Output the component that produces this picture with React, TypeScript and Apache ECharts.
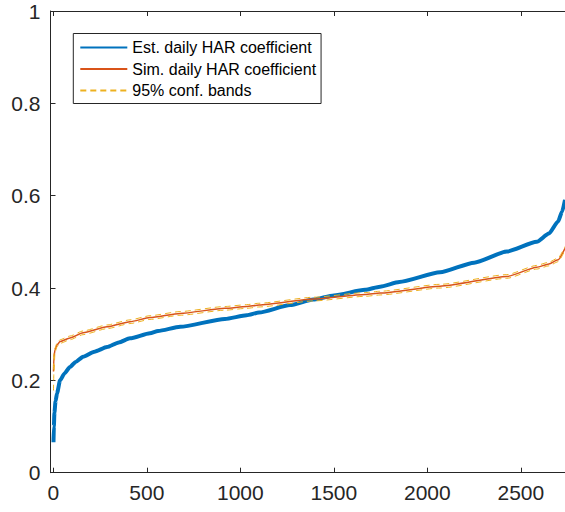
import React, { useEffect, useRef } from "react";
import * as echarts from "echarts";

// Estimated daily HAR coefficient (sorted)
const estX = [1, 3, 6, 12, 20, 36, 60, 89, 120, 159, 220, 287, 350, 410, 517, 560, 678, 918, 1034, 1100, 1266, 1390, 1500, 1667, 1747, 1850, 2068, 2250, 2425, 2585, 2650, 2699, 2720, 2736];
const estY = [0.066, 0.1, 0.13, 0.155, 0.172, 0.2, 0.215, 0.229, 0.24, 0.251, 0.262, 0.272, 0.282, 0.291, 0.302, 0.307, 0.316, 0.333, 0.341, 0.347, 0.363, 0.375, 0.384, 0.396, 0.403, 0.413, 0.434, 0.455, 0.479, 0.5, 0.518, 0.544, 0.565, 0.591];

// Simulated daily HAR coefficient
const simX = [1, 3, 9, 20, 36, 89, 159, 287, 410, 517, 678, 918, 1034, 1100, 1390, 1667, 1747, 2068, 2425, 2585, 2650, 2699, 2736];
const simY = [0.219, 0.25, 0.266, 0.277, 0.284, 0.292, 0.303, 0.316, 0.327, 0.336, 0.345, 0.356, 0.36, 0.363, 0.376, 0.386, 0.389, 0.404, 0.425, 0.445, 0.452, 0.461, 0.486];

// 95% confidence bands
const bandUpY = [0.224, 0.256, 0.27, 0.281, 0.288, 0.296, 0.307, 0.32, 0.331, 0.34, 0.349, 0.36, 0.364, 0.367, 0.38, 0.39, 0.393, 0.408, 0.429, 0.449, 0.456, 0.465, 0.49];
const bandLoY = [0.178, 0.215, 0.26, 0.273, 0.28, 0.288, 0.299, 0.312, 0.323, 0.332, 0.341, 0.352, 0.356, 0.359, 0.372, 0.382, 0.385, 0.4, 0.421, 0.441, 0.448, 0.457, 0.482];

const xTicks = [0, 500, 1000, 1500, 2000, 2500];
const names = ["Est. daily HAR coefficient", "Sim. daily HAR coefficient", "95% conf. bands"];

const zip = (xs: number[], ys: number[]) => xs.map((x, i) => [x, ys[i]]);

export default function App() {
  const ref = useRef<HTMLDivElement>(null);
  useEffect(() => {
    if (!ref.current) return;
    const chart = echarts.init(ref.current, null, { renderer: "svg" });
    const axisColor = "#262626";
    const font = "Liberation Sans, Arial, Helvetica, sans-serif";
    const lineCommon = { type: "line", symbol: "none", smooth: 0.2, smoothMonotone: "x" };
    chart.setOption({
      animation: false,
      backgroundColor: "#fff",
      grid: { left: 50.5, right: 0, top: 11, bottom: 39.3, containLabel: false, outerBoundsMode: "none" },
      legend: {
        orient: "vertical",
        left: 73.3,
        top: 33.5,
        itemWidth: 47,
        itemHeight: 10,
        itemGap: 5.5,
        padding: [6, 5, 5, 6],
        borderColor: axisColor,
        borderWidth: 1,
        backgroundColor: "#fff",
        data: names,
        itemStyle: { opacity: 0 },
        textStyle: { fontSize: 16, fontFamily: font, color: "#000" },
      },
      xAxis: [
        {
          type: "value",
          min: -15,
          max: 2736,
          position: "bottom",
          axisLine: { show: true, onZero: false, lineStyle: { color: axisColor, width: 1 } },
          axisTick: { show: true, inside: true, length: 5, customValues: xTicks, lineStyle: { color: axisColor } },
          axisLabel: { customValues: xTicks, formatter: (v: number) => String(v), fontSize: 21, fontFamily: font, color: axisColor, margin: 9 },
          splitLine: { show: false },
        },
        {
          type: "value",
          min: -15,
          max: 2736,
          position: "top",
          axisLine: { show: true, onZero: false, lineStyle: { color: axisColor, width: 1 } },
          axisTick: { show: true, inside: true, length: 5, customValues: xTicks, lineStyle: { color: axisColor } },
          axisLabel: { show: false, customValues: xTicks },
          splitLine: { show: false },
        },
      ],
      yAxis: {
        type: "value",
        min: 0,
        max: 1,
        interval: 0.2,
        axisLine: { show: true, onZero: false, lineStyle: { color: axisColor, width: 1 } },
        axisTick: { show: true, inside: true, length: 5, lineStyle: { color: axisColor } },
        axisLabel: { fontSize: 21, fontFamily: font, color: axisColor, margin: 10 },
        splitLine: { show: false },
      },
      series: [
        {
          ...lineCommon,
          name: names[0],
          data: zip(estX, estY),
          lineStyle: { color: "#0072BD", width: 4 },
          itemStyle: { color: "#0072BD" },
          z: 2,
        },
        {
          ...lineCommon,
          name: names[1],
          data: zip(simX, simY),
          lineStyle: { color: "#D95319", width: 1.5 },
          itemStyle: { color: "#D95319" },
          z: 3,
        },
        {
          ...lineCommon,
          name: names[2],
          data: zip(simX, bandUpY),
          lineStyle: { color: "#EDB120", width: 1, type: [6, 4] },
          itemStyle: { color: "#EDB120" },
          z: 4,
        },
        {
          ...lineCommon,
          name: names[2],
          data: zip(simX, bandLoY),
          lineStyle: { color: "#EDB120", width: 1, type: [6, 4] },
          itemStyle: { color: "#EDB120" },
          z: 4,
        },
      ],
    });
    return () => chart.dispose();
  }, []);
  return <div ref={ref} style={{ position: "fixed", left: 0, top: 0, width: 565, height: 512 }} />;
}
